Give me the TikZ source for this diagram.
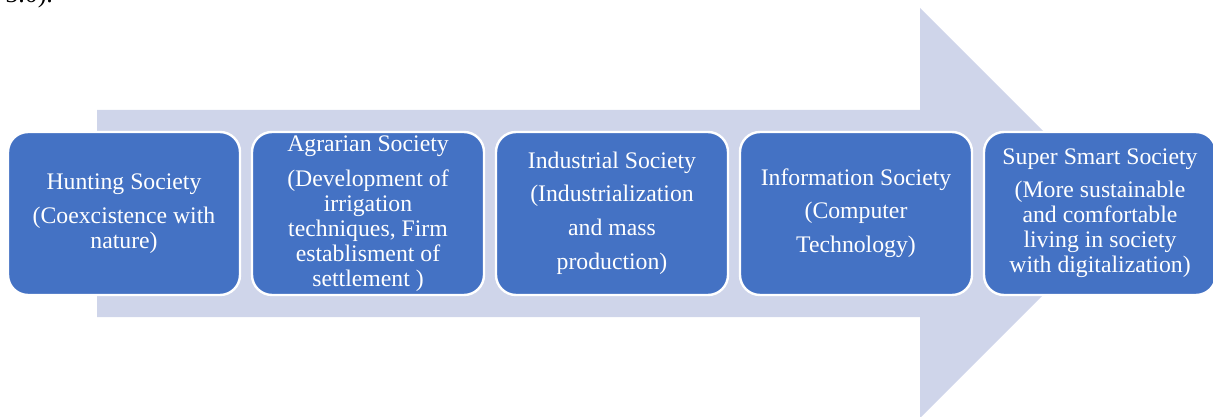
\documentclass[tikz,border=0pt]{standalone}
\usepackage{fontspec}
\setmainfont{Liberation Serif}
\definecolor{boxblue}{HTML}{4472C4}
\definecolor{arrowfill}{HTML}{CFD5EA}
\begin{document}
\begin{tikzpicture}[x=0.75pt,y=-0.75pt,
  stage/.style={draw=white, line width=1.8pt, fill=boxblue, rounded corners=15pt,
    minimum width=174pt, minimum height=122.25pt, inner sep=0pt,
    text=white, align=center, font=\fontsize{17.8}{18.75}\selectfont},
  bigarrow/.style={fill=arrowfill, draw=none}]
\useasboundingbox (0,0) rectangle (1213,417);
\clip (0,0) rectangle (1213,417);

% line ending of the text above
\node[anchor=base west, inner sep=0pt, font=\fontsize{19.5}{20}\selectfont] (tail) at (5,3) {5.0).};

% wide background arrow
\fill[bigarrow] (97,110) -- (920,110) -- (920,8) -- (1125,213) -- (920,418)
  -- (920,317) -- (97,317) -- cycle;

% the five stages
\node[stage] (hunt) at (124,213.5)
  {Hunting Society\\[6.75pt](Coexcistence with\\nature)};
\node[stage] (agri) at (368,213.5)
  {Agrarian Society\\[7.5pt](Development of\\irrigation\\techniques, Firm\\establisment of\\settlement )};
\node[stage] (indu) at (612,213.5)
  {Industrial Society\\[6pt](Industrialization\\[6.75pt]and mass\\[6.75pt]production)};
\node[stage] (info) at (856,213.5)
  {Information Society\\[6pt](Computer\\[6.75pt]Technology)};
\node[stage] (smart) at (1100,213.5)
  {Super Smart Society\\[6pt](More sustainable\\and comfortable\\living in society\\with digitalization)};
\end{tikzpicture}
\end{document}
